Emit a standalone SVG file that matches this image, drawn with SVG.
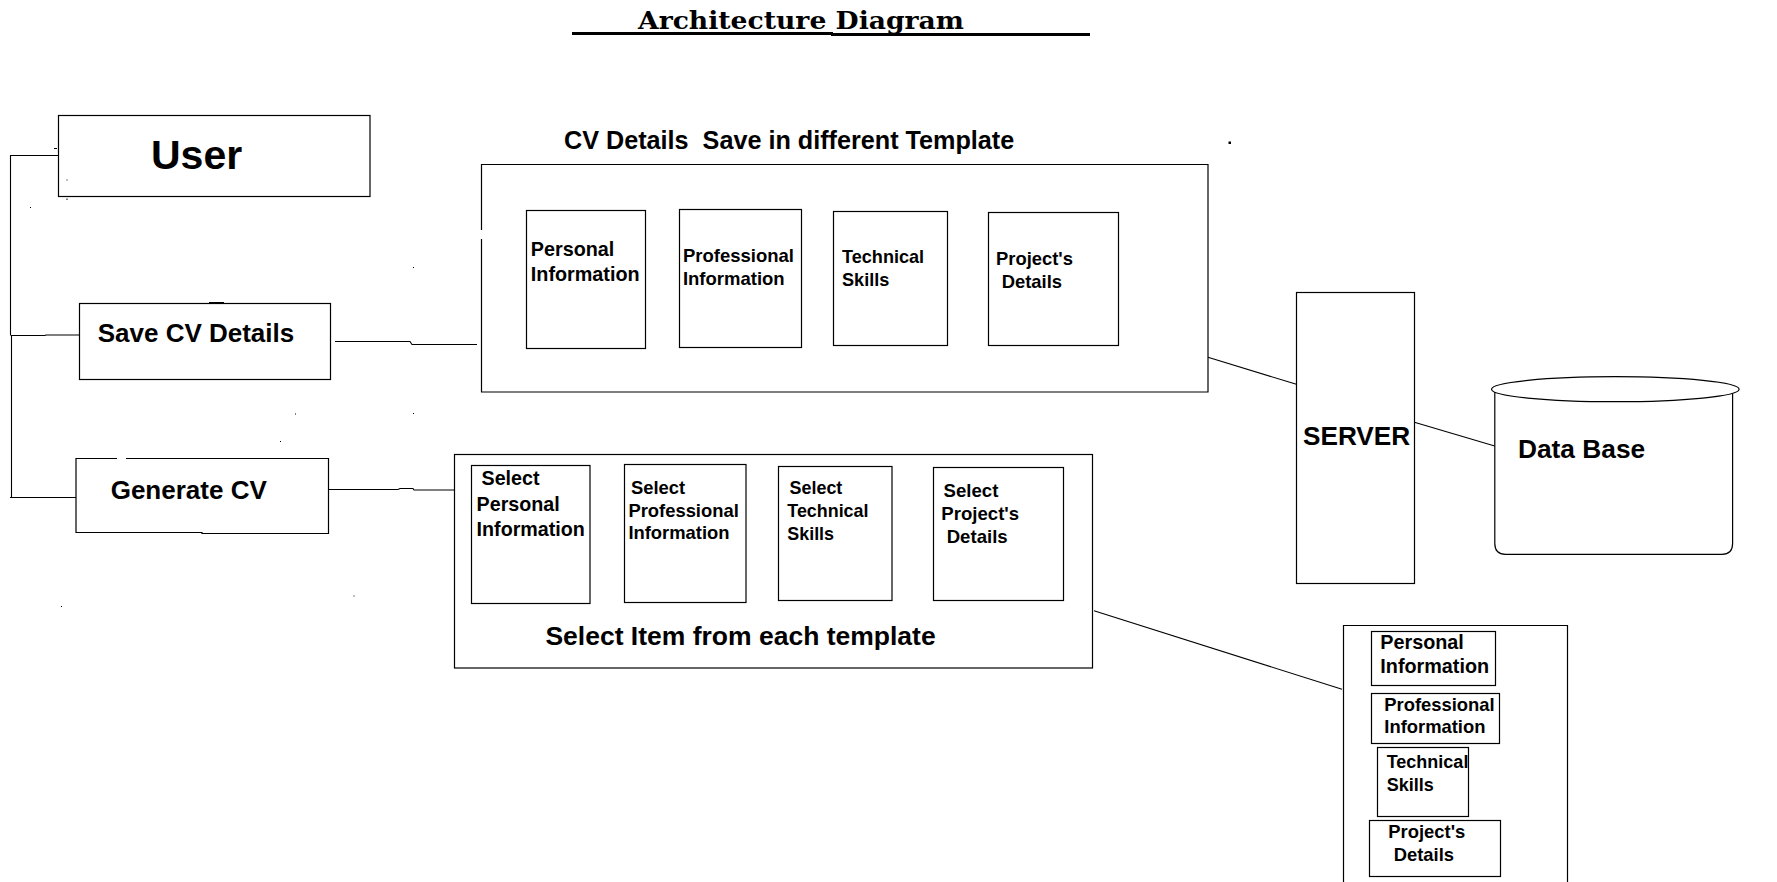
<svg xmlns="http://www.w3.org/2000/svg" width="1777" height="882" viewBox="0 0 1777 882">
<style>
.b{fill:#fff;stroke:#000;stroke-width:1.2}
.n{fill:none;stroke:#000;stroke-width:1.2}
.c{fill:none;stroke:#000;stroke-width:1.1}
.t{font-family:"Liberation Sans",Arial,sans-serif;font-weight:bold;fill:#000}
.d{fill:#000}
</style>
<rect width="1777" height="882" fill="#fff"/>
<g id="title">
<text x="638" y="29" font-family="DejaVu Serif,'Liberation Serif',serif" font-weight="bold" font-size="25" textLength="326" lengthAdjust="spacingAndGlyphs">Architecture Diagram</text>
<rect x="572" y="32" width="261" height="3" class="d"/>
<rect x="831" y="33" width="259" height="3" class="d"/>
</g>
<g id="connectors">
<path class="c" d="M58,155.5 H10.5 V335.5 M11.5,335 V497.5 M10,497.5 H76 M11.5,335.5 H45 L46,335 H79"/>
<path class="c" d="M335,341.5 H410 L412,344.5 H477"/>
<path class="c" d="M325,489.5 H398 L400,488.5 H413 L414,490 H455"/>
<path class="c" d="M1208,357.3 L1296.4,384.3"/>
<path class="c" d="M1412.7,421.7 L1494.7,446"/>
<path class="c" d="M1094,610.7 L1342,689.3"/>
</g>
<g id="user">
<rect class="b" x="58.5" y="115.5" width="311.5" height="81"/>
<text class="t" x="151" y="169" font-size="41">User</text>
</g>
<g id="save-cv">
<rect class="b" x="79.5" y="303.5" width="251" height="76"/>
<rect x="209" y="302" width="15" height="1.5" class="d"/>
<text class="t" x="97.7" y="341.7" font-size="26">Save CV Details</text>
</g>
<g id="generate-cv">
<rect x="76" y="458.5" width="252.5" height="75" fill="#fff"/>
<path class="n" d="M117,458.5 H76 V532.5 H202 V533.5 H328.5 V458.5 H126"/>
<text class="t" x="110.7" y="499" font-size="26">Generate CV</text>
</g>
<g id="cv-templates">
<text class="t" x="564" y="148.5" font-size="25.2" xml:space="preserve">CV Details  Save in different Template</text>
<path class="n" d="M481.5,230 V164.5 H1208 V392 H481.5 V239"/>
<g id="tpl-personal">
<rect class="b" x="526.5" y="210.5" width="119" height="138"/>
<text class="t" x="530.8" y="256" font-size="19.8">Personal</text>
<text class="t" x="530.8" y="280.7" font-size="19.8">Information</text>
</g>
<g id="tpl-professional">
<rect class="b" x="679.5" y="209.5" width="122" height="138"/>
<text class="t" x="682.9" y="262" font-size="18.5">Professional</text>
<text class="t" x="682.9" y="284.7" font-size="18.5">Information</text>
</g>
<g id="tpl-technical">
<rect class="b" x="833.5" y="211.5" width="114" height="134"/>
<text class="t" x="842" y="263.3" font-size="18.1">Technical</text>
<text class="t" x="842" y="286" font-size="18.1">Skills</text>
</g>
<g id="tpl-projects">
<rect class="b" x="988.5" y="212.5" width="130" height="133"/>
<text class="t" x="996" y="265.3" font-size="18.4">Project's</text>
<text class="t" x="1001.7" y="288.3" font-size="18.4">Details</text>
</g>
</g>
<g id="select-templates">
<rect class="b" x="454.5" y="454.5" width="638" height="213.5"/>
<g id="sel-personal">
<rect class="b" x="471.5" y="465.5" width="118.5" height="138"/>
<text class="t" x="481.5" y="485" font-size="19.7">Select</text>
<text class="t" x="476.6" y="511" font-size="19.7">Personal</text>
<text class="t" x="476.6" y="536" font-size="19.7">Information</text>
</g>
<g id="sel-professional">
<rect class="b" x="624.5" y="464.5" width="121.5" height="138"/>
<text class="t" x="631" y="494.3" font-size="18.4">Select</text>
<text class="t" x="628.4" y="516.7" font-size="18.4">Professional</text>
<text class="t" x="628.4" y="539.3" font-size="18.4">Information</text>
</g>
<g id="sel-technical">
<rect class="b" x="778.5" y="466.5" width="113.5" height="134"/>
<text class="t" x="789.6" y="494.3" font-size="17.9">Select</text>
<text class="t" x="787.3" y="517.3" font-size="17.9">Technical</text>
<text class="t" x="787.3" y="540" font-size="17.9">Skills</text>
</g>
<g id="sel-projects">
<rect class="b" x="933.5" y="467.5" width="130" height="133"/>
<text class="t" x="943.6" y="496.7" font-size="18.6">Select</text>
<text class="t" x="941.3" y="520" font-size="18.6">Project's</text>
<text class="t" x="946.7" y="542.7" font-size="18.6">Details</text>
</g>
<text class="t" x="545.4" y="645" font-size="26.5">Select Item from each template</text>
</g>
<g id="server">
<rect class="b" x="1296.5" y="292.5" width="118" height="291"/>
<text class="t" x="1303" y="445" font-size="26.2">SERVER</text>
</g>
<g id="database">
<path class="b" d="M1494.8,392 V543.5 Q1494.8,554.3 1505.5,554.3 H1722 Q1732.6,554.3 1732.6,543.5 V392"/>
<ellipse class="b" cx="1615.3" cy="389.2" rx="123.8" ry="12.5"/>
<text class="t" x="1518" y="457.5" font-size="26.3">Data Base</text>
</g>
<g id="output-cv">
<path class="n" d="M1343.5,900 V625.5 H1567.5 V900"/>
<g id="out-personal">
<rect class="b" x="1371.5" y="631.5" width="124" height="54"/>
<text class="t" x="1380.3" y="649.3" font-size="19.8">Personal</text>
<text class="t" x="1380.3" y="673.3" font-size="19.8">Information</text>
</g>
<g id="out-professional">
<rect class="b" x="1371.5" y="693.5" width="128" height="50"/>
<text class="t" x="1384.3" y="711" font-size="18.4">Professional</text>
<text class="t" x="1384.3" y="733.3" font-size="18.4">Information</text>
</g>
<g id="out-technical">
<rect class="b" x="1377.5" y="747.5" width="91" height="69"/>
<text class="t" x="1386.7" y="767.7" font-size="18">Technical</text>
<text class="t" x="1386.7" y="790.7" font-size="18">Skills</text>
</g>
<g id="out-projects">
<rect class="b" x="1369.5" y="820.5" width="131" height="56"/>
<text class="t" x="1388.3" y="838.3" font-size="18.4">Project's</text>
<text class="t" x="1393.7" y="861" font-size="18.4">Details</text>
</g>
</g>
<g id="specks" class="d">
<rect x="1228.5" y="141.5" width="2.5" height="2.5"/>
<rect x="54" y="148" width="3" height="1"/>
<rect x="66.5" y="179.5" width="1" height="1"/>
<rect x="66.5" y="198.5" width="1" height="1.5"/>
<rect x="30" y="207" width="1" height="1"/>
<rect x="413" y="267" width="1" height="1"/>
<rect x="295" y="413.5" width="1" height="1"/>
<rect x="413" y="413" width="1" height="1"/>
<rect x="280" y="441" width="1" height="1"/>
<rect x="353.5" y="595.5" width="1" height="1"/>
<rect x="61" y="606" width="1" height="1"/>
</g>
</svg>
